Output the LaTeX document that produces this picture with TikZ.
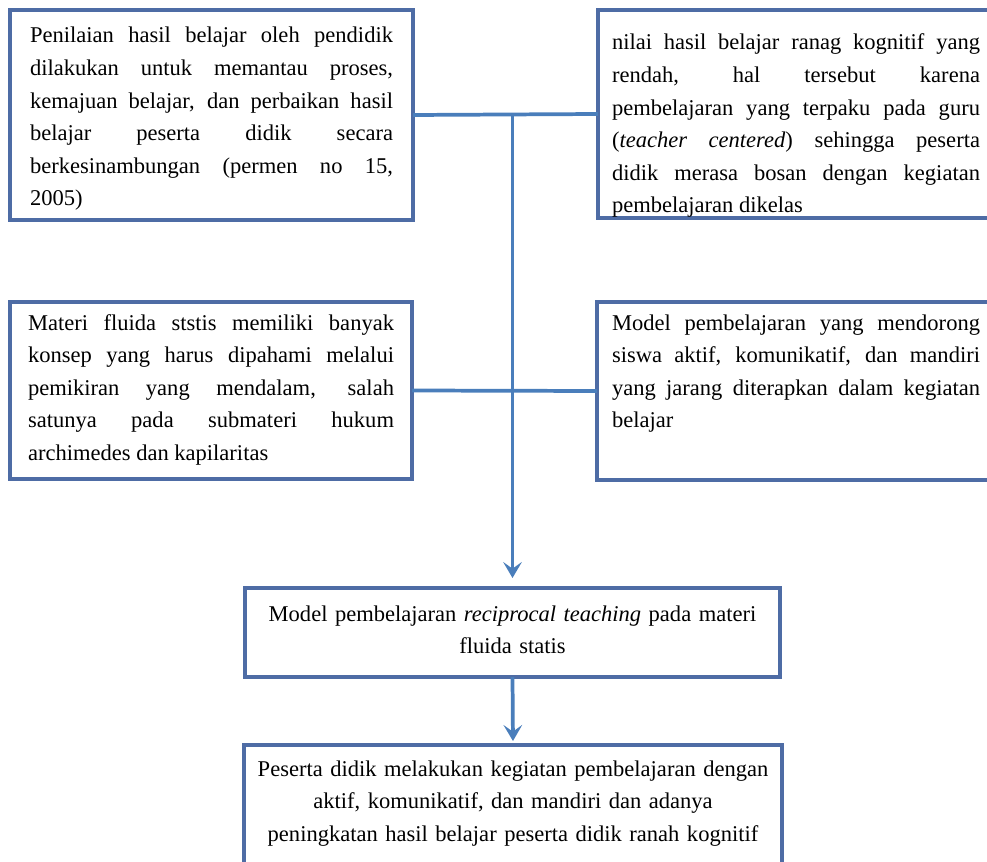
\documentclass[tikz,border=0pt]{standalone}
\usepackage{fontspec}
\setmainfont{Liberation Serif}
\usetikzlibrary{arrows.meta}
\definecolor{linkblue}{RGB}{74,126,187}
\definecolor{edgeblue}{RGB}{78,108,165}
\hyphenpenalty=10000 \exhyphenpenalty=10000 \tolerance=10000 \hbadness=10000

\begin{document}
\begin{tikzpicture}[
	x=0.75pt, y=-0.75pt,
	box/.style={rectangle, draw=edgeblue, line width=2.6pt, fill=white, inner ysep=0pt, outer sep=0pt, anchor=north west, align=justify, font=\fontsize{16.9pt}{24.4pt}\selectfont},
	line/.style={draw=linkblue, line width=2.8pt},
	arrow/.style={line, -{Stealth[length=12pt, width=14pt, inset=5pt]}}
]
	\useasboundingbox (0,0) rectangle (987,862);

	% Background boxes
	\node[box, text width=272.25pt, inner xsep=15pt, text height=24.75pt, text depth=132.75pt] (penilaian) at (10,10) {Penilaian hasil belajar oleh pendidik\linebreak dilakukan untuk memantau proses,\linebreak kemajuan belajar, dan perbaikan hasil\linebreak belajar peserta didik secara\linebreak berkesinambungan (permen no 15,\linebreak 2005)};
	\node[box, text width=276pt, inner xsep=10.5pt, text height=30pt, text depth=126pt] (nilai) at (598,10) {nilai hasil belajar ranag kognitif yang\linebreak rendah, hal tersebut karena\linebreak pembelajaran yang terpaku pada guru\linebreak (\textit{teacher centered}) sehingga peserta\linebreak didik merasa bosan dengan kegiatan\linebreak pembelajaran dikelas};
	\node[box, text width=274.5pt, inner xsep=13.5pt, text height=21pt, text depth=111.75pt] (materi) at (10,302) {Materi fluida ststis memiliki banyak\linebreak konsep yang harus dipahami melalui\linebreak pemikiran yang mendalam, salah\linebreak satunya pada submateri hukum\linebreak archimedes dan kapilaritas};
	\node[box, text width=276pt, inner xsep=11.25pt, text height=21pt, text depth=112.5pt] (model) at (597,302) {Model pembelajaran yang mendorong\linebreak siswa aktif, komunikatif, dan mandiri\linebreak yang jarang diterapkan dalam kegiatan\linebreak belajar};

	% Model and result
	\node[box, align=center, text width=386.25pt, inner xsep=7.5pt, text height=24.75pt, text depth=42pt] (reciprocal) at (245,588) {Model pembelajaran \textit{reciprocal teaching} pada materi\\fluida statis};
	\node[box, align=center, text width=388.5pt, inner xsep=7.5pt, text height=23.25pt, text depth=70.5pt] (hasil) at (244,745) {Peserta didik melakukan kegiatan pembelajaran dengan\\aktif, komunikatif, dan mandiri dan adanya\\peningkatan hasil belajar peserta didik ranah kognitif};

	% Connectors
	\coordinate (split) at (reciprocal.north |- penilaian.east);
	\draw[line] (penilaian.east) -- (nilai.west);
	\draw[line] (materi.east) -- (model.west);
	\draw[arrow, shorten >=7.5pt] (split) -- (reciprocal.north);
	\draw[arrow, shorten >=3pt] (reciprocal.south) -- (hasil.north);
\end{tikzpicture}
\end{document}
